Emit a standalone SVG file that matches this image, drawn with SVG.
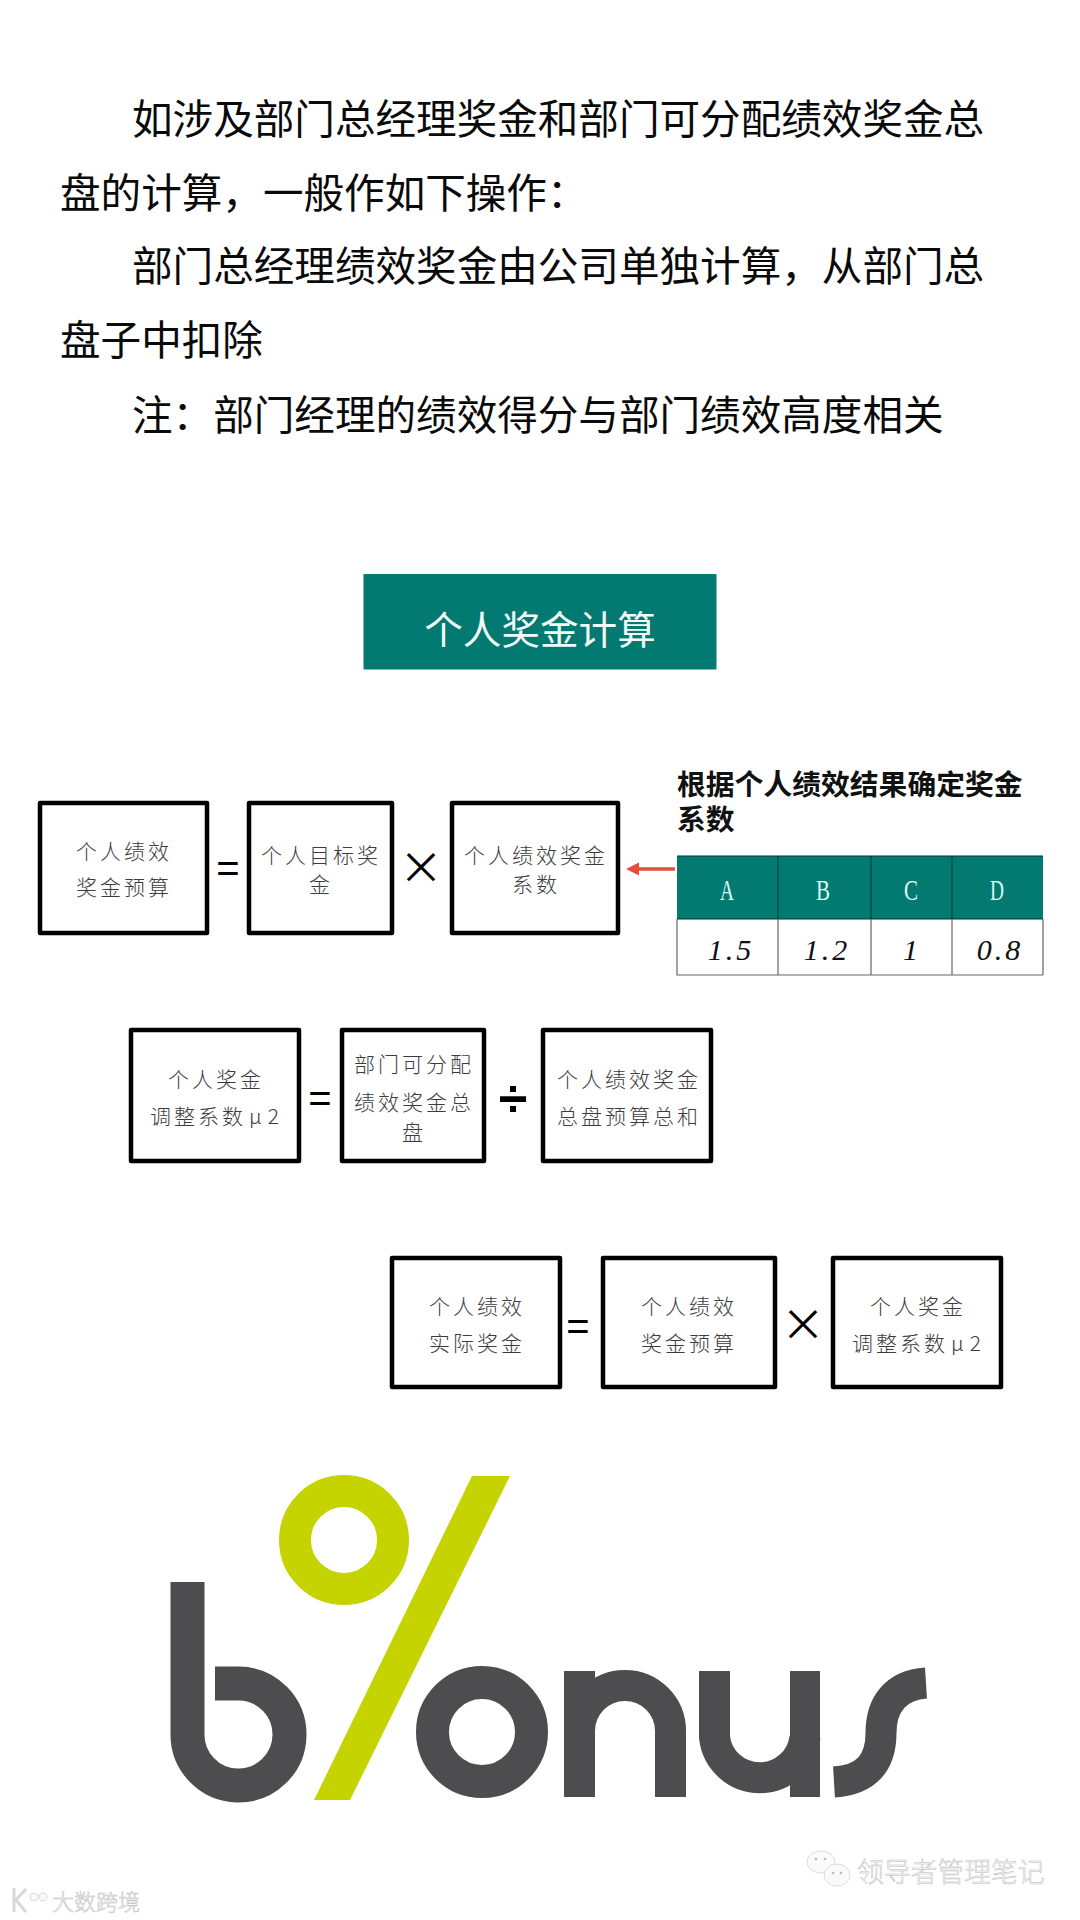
<svg xmlns="http://www.w3.org/2000/svg" width="1080" height="1920" viewBox="0 0 1080 1920">
<style>
text{font-family:"Noto Sans CJK SC","Noto Sans",sans-serif}
.p{font-size:40.6px;fill:#0a0a0a}
.box{fill:#fff;stroke:#000;stroke-width:4.5;stroke-linejoin:round}
.t{font-size:21px;letter-spacing:3px;fill:#3c3c3c;text-anchor:middle;font-weight:300}
.op{font-family:"Liberation Sans",sans-serif;fill:#000;text-anchor:middle}
.eq{font-size:40px}
.x{font-family:"Noto Sans CJK SC",sans-serif;font-size:44px;font-weight:400}
.head{font-family:"Liberation Serif",serif;font-size:29px;fill:#dff7f2;text-anchor:middle}
.val{font-family:"Liberation Serif",serif;font-style:italic;font-size:30px;letter-spacing:3px;fill:#111;text-anchor:middle}
.gl{fill:none;stroke:#4d4d4f;stroke-width:33}
.wm{fill:#fafafa;stroke:#bdbdbd;stroke-width:.5;font-weight:300}
.dot{fill:#bdbdbd}
</style>
<defs>
<marker id="arrow" markerUnits="userSpaceOnUse" markerWidth="14" markerHeight="14" refX="1" refY="7" orient="auto"><path d="M13 7L0 .5V13.500Z" fill="#e84c3d"/></marker>
</defs>
<rect width="1080" height="1920" fill="#fff"/>
<g id="intro">
<text class="p" x="132" y="134">如涉及部门总经理奖金和部门可分配绩效奖金总</text>
<text class="p" x="60" y="208">盘的计算，一般作如下操作：</text>
<text class="p" x="132" y="281">部门总经理绩效奖金由公司单独计算，从部门总</text>
<text class="p" x="60" y="355">盘子中扣除</text>
<text class="p" x="132" y="430">注：部门经理的绩效得分与部门绩效高度相关</text>
</g>
<g id="title">
<rect x="363.500" y="574" width="353" height="95.500" fill="#027a71"/>
<text x="540" y="644" font-size="38.600" fill="#f2fbf9" text-anchor="middle">个人奖金计算</text>
</g>
<g id="n1"><rect class="box" x="40" y="803" width="167" height="130"/><text class="t" x="124" y="859">个人绩效</text><text class="t" x="124" y="895">奖金预算</text></g>
<text class="op eq" x="228" y="882">=</text>
<g id="n2"><rect class="box" x="249" y="803" width="143" height="130"/><text class="t" x="321" y="863">个人目标奖</text><text class="t" x="321" y="892">金</text></g>
<text class="op x" x="421" y="884">×</text>
<g id="n3"><rect class="box" x="452" y="803" width="166" height="130"/><text class="t" x="536" y="863">个人绩效奖金</text><text class="t" x="536" y="892">系数</text></g>
<g id="coef">
<text x="677" y="795" font-size="28.800" font-weight="700" fill="#111">根据个人绩效结果确定奖金</text>
<text x="677" y="830" font-size="28.800" font-weight="700" fill="#111">系数</text>
<rect x="677" y="856" width="366" height="63" fill="#027a71"/>
<path d="M677 856H1043M677 919H1043M778 856V919M871 856V919M952 856V919" fill="none" stroke="#04352f" stroke-width="1"/>
<path d="M677 919V975H1043M778 919V975M871 919V975M952 919V975M1043 919V975" fill="none" stroke="#666" stroke-width="1.200"/>
<text class="head" x="727" y="900" textLength="14" lengthAdjust="spacingAndGlyphs">A</text><text class="head" x="823" y="900" textLength="14" lengthAdjust="spacingAndGlyphs">B</text><text class="head" x="911" y="900" textLength="14" lengthAdjust="spacingAndGlyphs">C</text><text class="head" x="997" y="900" textLength="14" lengthAdjust="spacingAndGlyphs">D</text>
<text class="val" x="731" y="960">1.5</text><text class="val" x="827" y="960">1.2</text><text class="val" x="912" y="960">1</text><text class="val" x="1000" y="960">0.8</text>
</g>
<g id="connectors"><line x1="675" y1="869" x2="638" y2="869" stroke="#e84c3d" stroke-width="3.500" marker-end="url(#arrow)"/></g>
<g id="n4"><rect class="box" x="131" y="1030" width="168" height="131"/><text class="t" x="216" y="1087">个人奖金</text><text class="t" x="216" y="1124">调整系数<tspan dx="3">μ</tspan><tspan dx="3">2</tspan></text></g>
<text class="op eq" x="320" y="1112">=</text>
<g id="n5"><rect class="box" x="342" y="1030" width="142" height="131"/><text class="t" x="414" y="1072">部门可分配</text><text class="t" x="414" y="1110">绩效奖金总</text><text class="t" x="414" y="1140">盘</text></g>
<text class="op" x="513" y="1116" font-size="52" font-weight="700">÷</text>
<g id="n6"><rect class="box" x="543" y="1030" width="168" height="131"/><text class="t" x="629" y="1087">个人绩效奖金</text><text class="t" x="629" y="1124">总盘预算总和</text></g>
<g id="n7"><rect class="box" x="392" y="1258" width="168" height="129"/><text class="t" x="477" y="1314">个人绩效</text><text class="t" x="477" y="1351">实际奖金</text></g>
<text class="op eq" x="578" y="1340">=</text>
<g id="n8"><rect class="box" x="603" y="1258" width="172" height="129"/><text class="t" x="689" y="1314">个人绩效</text><text class="t" x="689" y="1351">奖金预算</text></g>
<text class="op x" x="803" y="1341">×</text>
<g id="n9"><rect class="box" x="833" y="1258" width="168" height="129"/><text class="t" x="918" y="1314">个人奖金</text><text class="t" x="918" y="1351">调整系数<tspan dx="3">μ</tspan><tspan dx="3">2</tspan></text></g>
<g id="logo">
<path class="gl" d="M187.500 1582V1733A51 51 0 1 0 239 1683.500H215" style="stroke-width:34"/>
<circle class="gl" cx="482" cy="1732" r="49.500"/>
<path class="gl" d="M579.500 1671V1797" style="stroke-width:31"/>
<path class="gl" d="M670.500 1797V1731A45.500 45.500 0 0 0 579.500 1731" style="stroke-width:31"/>
<path class="gl" d="M714.500 1671V1737A45.500 45.500 0 0 0 805 1737" style="stroke-width:31"/>
<path class="gl" d="M805 1671V1797" style="stroke-width:30"/>
<path class="gl" d="M926 1683C895 1685 881 1705 881 1733C881 1762 867 1780 834 1782" style="stroke-width:31"/>
<circle cx="344" cy="1540" r="49" fill="none" stroke="#c5d300" stroke-width="32"/>
<path d="M472 1476H510L350 1800H314Z" fill="#c5d300"/>
</g>
<g id="watermarks">
<ellipse cx="821" cy="1862" rx="14" ry="11" class="wm"/>
<ellipse cx="837" cy="1875" rx="13" ry="11" class="wm"/>
<circle cx="816" cy="1859" r="1.300" class="dot"/><circle cx="825" cy="1859" r="1.300" class="dot"/><circle cx="833" cy="1873" r="1.300" class="dot"/><circle cx="841" cy="1873" r="1.300" class="dot"/>
<text class="wm" x="857" y="1882" font-size="26.800">领导者管理笔记</text>
<path d="M14 1888V1912M26 1889L16 1900L26 1912" fill="none" stroke="#d8d8d8" stroke-width="3"/>
<circle cx="34" cy="1897" r="4" class="wm"/><circle cx="43" cy="1897" r="4" class="wm"/>
<text class="wm" x="52" y="1910" font-size="22">大数跨境</text>
</g>
</svg>
